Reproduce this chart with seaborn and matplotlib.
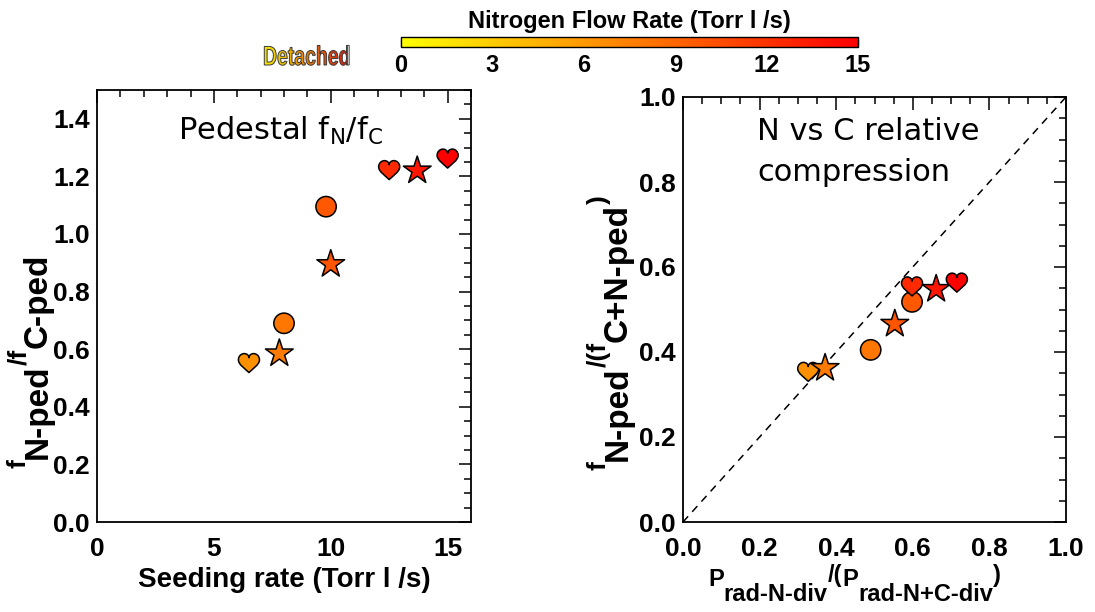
import numpy as np
import pandas as pd
import matplotlib
matplotlib.use("Agg")
import matplotlib.pyplot as plt
import seaborn as sns
from matplotlib.path import Path
from matplotlib.colors import LinearSegmentedColormap, Normalize
from matplotlib.cm import ScalarMappable
from matplotlib.ticker import MultipleLocator, FormatStrFormatter
from matplotlib.textpath import TextPath
from matplotlib.patches import PathPatch
from matplotlib.font_manager import FontProperties
from matplotlib.transforms import Affine2D, IdentityTransform

# ---------------- data ----------------
seeding_rate = [6.5, 7.8, 8.0, 9.8, 10.0, 12.5, 13.7, 15.0]
shape = ["heart", "star", "circle", "circle", "star", "heart", "star", "heart"]
fN_over_fC = [0.55, 0.585, 0.69, 1.095, 0.895, 1.22, 1.22, 1.26]
prad_N_frac = [0.327, 0.371, 0.490, 0.598, 0.553, 0.598, 0.661, 0.715]
fN_frac = [0.352, 0.362, 0.405, 0.518, 0.466, 0.553, 0.548, 0.562]
cbar_ticks = [0, 3, 6, 9, 12, 15]

df = pd.DataFrame({"rate": seeding_rate, "shape": shape,
                   "ratio": fN_over_fC, "prad": prad_N_frac, "ffrac": fN_frac})

# ---------------- style ----------------
sns.set_style("white")
plt.rcParams["font.family"] = ["Liberation Sans", "DejaVu Sans"]
plt.rcParams["font.weight"] = "bold"
plt.rcParams["text.color"] = "black"
plt.rcParams["axes.labelcolor"] = "black"
plt.rcParams["xtick.color"] = "black"
plt.rcParams["ytick.color"] = "black"
plt.rcParams["axes.unicode_minus"] = False

cmap = LinearSegmentedColormap.from_list("yr", ["#ffff00", "#ff0000"])
norm = Normalize(0, 15)

# heart marker path
hv = [(0, -0.85),
      (-0.35, -0.5), (-1.0, -0.1), (-1.0, 0.35),
      (-1.0, 0.75), (-0.7, 0.95), (-0.45, 0.95),
      (-0.2, 0.95), (0, 0.78), (0, 0.55),
      (0, 0.78), (0.2, 0.95), (0.45, 0.95),
      (0.7, 0.95), (1.0, 0.75), (1.0, 0.35),
      (1.0, -0.1), (0.35, -0.5), (0, -0.85),
      (0, -0.85)]
hc = [Path.MOVETO] + [Path.CURVE4] * 18 + [Path.CLOSEPOLY]
heart = Path(hv, hc)
markers = {"heart": heart, "star": "*", "circle": "o"}
sizes = {"heart": 230, "star": 440, "circle": 215}

W, H = 1095, 612
fig = plt.figure(figsize=(W / 100, H / 100), dpi=100)
renderer = fig.canvas.get_renderer()

def px_axes(x0, y0, x1, y1):
    return fig.add_axes([x0 / W, 1 - y1 / H, (x1 - x0) / W, (y1 - y0) / H])

def chain_text(x, y, parts, vertical=False):
    """Write text pieces one after another; (x, y) in pixels from top-left.
    parts: (text, fontsize, raise_px)."""
    pos = 0.0
    for s, size, rise in parts:
        if vertical:
            t = fig.text(x - rise, H - y + pos, s, transform=IdentityTransform(), fontsize=size,
                         fontweight="bold", rotation=90, rotation_mode="anchor",
                         ha="left", va="baseline")
            pos += t.get_window_extent(renderer).height
        else:
            t = fig.text(x + pos, H - y + rise, s, transform=IdentityTransform(), fontsize=size,
                         fontweight="bold", ha="left", va="baseline")
            pos += t.get_window_extent(renderer).width

ax1 = px_axes(97, 90, 471, 522)
ax2 = px_axes(683, 97, 1066, 522)

sns.scatterplot(data=df, x="rate", y="ratio", hue="rate", palette=cmap, hue_norm=norm,
                style="shape", markers=markers, size="shape", sizes=sizes,
                edgecolor="black", linewidth=1.1, legend=False, ax=ax1, zorder=3)
sns.scatterplot(data=df, x="prad", y="ffrac", hue="rate", palette=cmap, hue_norm=norm,
                style="shape", markers=markers, size="shape", sizes=sizes,
                edgecolor="black", linewidth=1.1, legend=False, ax=ax2, zorder=3)

ax2.plot([0, 1], [0, 1], ls=(0, (5, 4)), color="black", lw=1.1, zorder=1)

ax1.set_xlim(0, 16)
ax1.set_ylim(0, 1.5)
ax1.xaxis.set_major_locator(MultipleLocator(5))
ax1.xaxis.set_minor_locator(MultipleLocator(1))
ax1.yaxis.set_major_locator(MultipleLocator(0.2))
ax1.yaxis.set_minor_locator(MultipleLocator(0.05))
ax1.yaxis.set_major_formatter(FormatStrFormatter("%.1f"))

ax2.set_xlim(0, 1)
ax2.set_ylim(0, 1)
for axis in (ax2.xaxis, ax2.yaxis):
    axis.set_major_locator(MultipleLocator(0.2))
    axis.set_minor_locator(MultipleLocator(0.05))
    axis.set_major_formatter(FormatStrFormatter("%.1f"))

for ax in (ax1, ax2):
    for s in ax.spines.values():
        s.set_linewidth(1.3)
        s.set_color("black")
    ax.tick_params(which="both", direction="in", top=True, right=True, width=1.1, colors="black")
    ax.tick_params(which="major", length=9, labelsize=19)
    ax.tick_params(which="minor", length=5)
    ax.tick_params(axis="x", pad=11)
    ax.tick_params(axis="y", pad=5)
    ax.set_xlabel("")
    ax.set_ylabel("")

ax1.set_xlabel("Seeding rate (Torr l /s)", fontsize=20, fontweight="bold", labelpad=4)

# composed axis titles (raised / lowered pieces)
chain_text(47, 468, [("f", 19, 21), ("N-ped", 24, 0), ("/f", 19, 21), ("C-ped", 24, 0)], vertical=True)
chain_text(627, 470, [("f", 19, 21), ("N-ped", 24, 0), ("/(f", 19, 21), ("C+N-ped", 24, 0),
                      (")", 19, 21)], vertical=True)
chain_text(708, 586, [("P", 17, 0), ("rad-N-div", 17, -15), ("/(", 17, 4), ("P", 17, 0),
                      ("rad-N+C-div", 17, -15), (")", 17, 4)])

# panel annotations
fig.text(178 / W, 1 - 140 / H, r"Pedestal f$_\mathregular{N}$/f$_\mathregular{C}$", fontsize=22,
         fontweight="normal", family="DejaVu Sans", va="baseline")
fig.text(757 / W, 1 - 140 / H, "N vs C relative", fontsize=22, fontweight="normal",
         family="DejaVu Sans", va="baseline")
fig.text(757 / W, 1 - 181 / H, "compression", fontsize=22, fontweight="normal",
         family="DejaVu Sans", va="baseline")

# colorbar
cax = px_axes(401, 36.7, 858, 47.3)
cb = fig.colorbar(ScalarMappable(norm=norm, cmap=cmap), cax=cax, orientation="horizontal")
cb.set_ticks(cbar_ticks)
cax.xaxis.set_minor_locator(MultipleLocator(1.5))
cax.tick_params(which="both", direction="in", top=True, bottom=True, colors="black", width=0.8)
cax.tick_params(which="major", length=5, labelsize=17, pad=5)
cax.tick_params(which="minor", length=3)
cb.outline.set_linewidth(1.0)
cb.outline.set_edgecolor("black")
cax.set_title("Nitrogen Flow Rate (Torr l /s)", fontsize=17, fontweight="bold", pad=6)

# "Detached" gradient label
ov = fig.add_axes([0, 0, 1, 1])
ov.set_axis_off()
fp = FontProperties(family="Liberation Sans", weight="bold")
tp = TextPath((0, 0), "Detached", size=27, prop=fp)
xs = 0.72
tw = tp.get_extents().width * xs
x0, yb = 263, H - 65
trans = Affine2D().scale(xs, 1).translate(x0, yb) + ov.transData
patch = PathPatch(tp, transform=trans, facecolor="none", edgecolor="#3a3a3a", lw=0.7, zorder=5)
ov.add_patch(patch)
dcmap = LinearSegmentedColormap.from_list("det", ["#f2e400", "#f0c000", "#e88000", "#dc4a10", "#d42010"])
im = ov.imshow(np.linspace(0, 1, 256).reshape(1, -1), extent=[x0, x0 + tw, yb - 8, yb + 24],
               cmap=dcmap, aspect="auto", origin="lower", zorder=4)
im.set_clip_path(patch)
ov.set_xlim(0, W)
ov.set_ylim(0, H)

fig.savefig("out.png", dpi=100)
